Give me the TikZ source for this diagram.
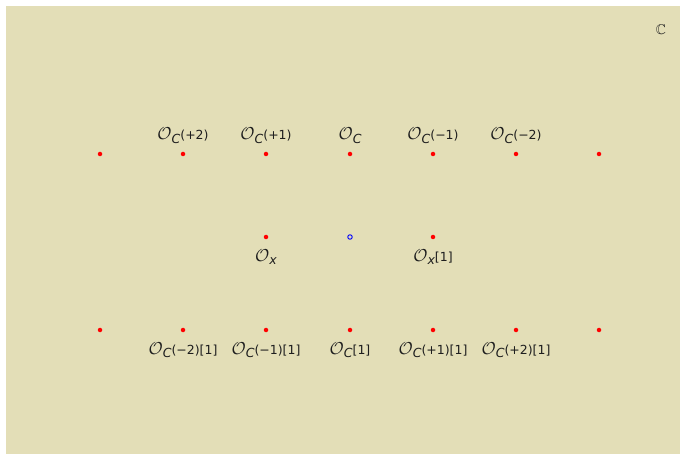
\documentclass[tikz,border=0pt]{standalone}
\usepackage{amssymb}
\usepackage{fontspec}
\setsansfont{DejaVu Sans}
\usetikzlibrary{positioning}
\definecolor{paper}{RGB}{227,222,183}
\definecolor{ink}{RGB}{30,30,30}
% sheaf label: calligraphic O with a lowered oblique subscript, then a suffix
\newcommand\sheaf[2]{\mbox{\fontsize{16}{16}\selectfont$\mathcal{O}$}\raisebox{-0.5ex}{\itshape\fontsize{12.5}{12.5}\selectfont #1}#2}
\tikzset{
  pt/.style={circle,fill=red,inner sep=0pt,minimum size=4.5pt},
  opt/.style={circle,draw=blue,line width=0.9pt,fill=paper,inner sep=0pt,minimum size=4.5pt},
  lbl/.style={font=\sffamily\fontsize{12.5}{14}\selectfont,text=ink,inner sep=1pt}
}
\begin{document}
\begin{tikzpicture}[x=1pt,y=-1pt]
\useasboundingbox (0,0) rectangle (680,454);
\fill[paper] (6,6) rectangle (680,454);
\node[lbl,font=\fontsize{14}{14}\selectfont] at (661,30) {$\mathbb{C}$};
% top row
\foreach \x/\n in {100/a1,183/a2,266/a3,350/a4,433/a5,516/a6,599/a7}
  \node[pt] (\n) at (\x,154) {};
\node[lbl,above=7pt of a2] {\sheaf{C}{(+2)}};
\node[lbl,above=7pt of a3] {\sheaf{C}{(+1)}};
\node[lbl,above=7pt of a4] {\sheaf{C}{}};
\node[lbl,above=7pt of a5] {\sheaf{C}{(−1)}};
\node[lbl,above=7pt of a6] {\sheaf{C}{(−2)}};
% middle row
\node[pt] (b1) at (266,237) {};
\node[opt] (b2) at (350,237) {};
\node[pt] (b3) at (433,237) {};
\node[lbl,below=9pt of b1] {\sheaf{x}{}};
\node[lbl,below=9pt of b3] {\sheaf{x}{[1]}};
% bottom row
\foreach \x/\n in {100/c1,183/c2,266/c3,350/c4,433/c5,516/c6,599/c7}
  \node[pt] (\n) at (\x,330) {};
\node[lbl,below=9pt of c2] {\sheaf{C}{(−2)[1]}};
\node[lbl,below=9pt of c3] {\sheaf{C}{(−1)[1]}};
\node[lbl,below=9pt of c4] {\sheaf{C}{[1]}};
\node[lbl,below=9pt of c5] {\sheaf{C}{(+1)[1]}};
\node[lbl,below=9pt of c6] {\sheaf{C}{(+2)[1]}};
\end{tikzpicture}
\end{document}
